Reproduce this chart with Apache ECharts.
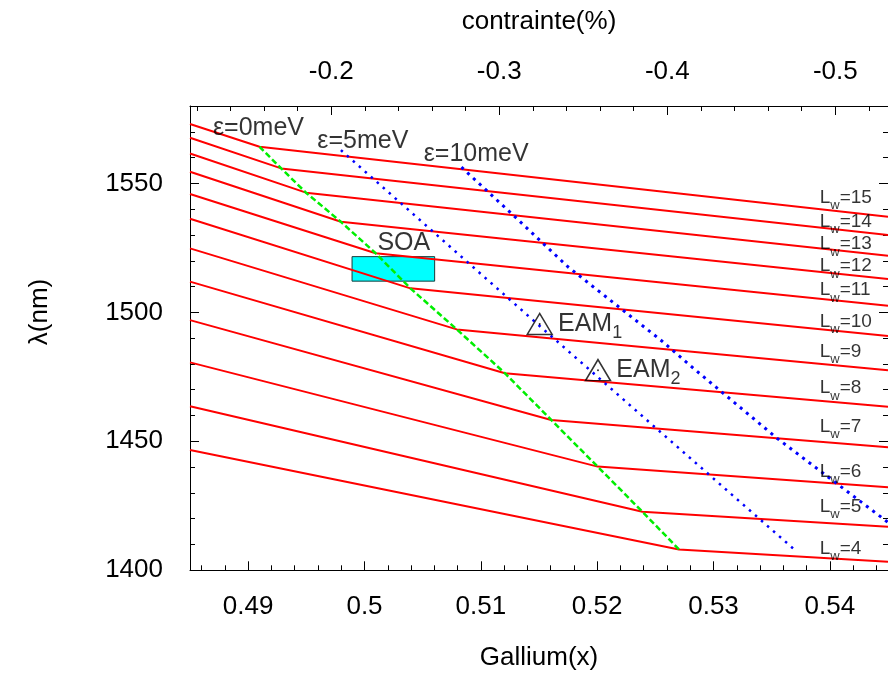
<!DOCTYPE html>
<html><head><meta charset="utf-8">
<script src="https://cdn.jsdelivr.net/npm/echarts@6/dist/echarts.min.js"></script>
<style>html,body{margin:0;padding:0;background:#fff}#c{width:888px;height:679px}</style>
</head><body><div id="c"></div>
<script>
// ---- data ----
const wellWidths = [4, 5, 6, 7, 8, 9, 10, 11, 12, 13, 14, 15];
const galliumStart = 0.485;
const galliumEnd = 0.545;
const lambdaAtStart = [1446.6, 1463.6, 1480.6, 1497.0, 1511.9, 1524.8, 1536.3, 1545.9, 1554.5, 1561.6, 1567.7, 1573.0];
const kneeGallium = [0.52703, 0.52389, 0.52004, 0.51605, 0.51207, 0.50793, 0.50395, 0.50096, 0.49797, 0.49497, 0.49284, 0.49098];
const kneeLambda = [1408.1, 1422.7, 1440.2, 1458.3, 1476.4, 1493.4, 1509.3, 1522.9, 1535.1, 1546.4, 1555.8, 1564.2];
const lambdaAtEnd = [1403.3, 1416.9, 1432.2, 1447.7, 1463.4, 1477.6, 1490.8, 1502.6, 1512.9, 1521.9, 1530.0, 1537.1];

const eps5Gallium = [0.49797, 0.51506, 0.53699];
const eps5Lambda = [1562.9, 1494.7, 1407.9];
const eps10Gallium = [0.50833, 0.51292, 0.51748, 0.52545, 0.52862, 0.53546, 0.545];
const eps10Lambda = [1556.3, 1537.1, 1517.7, 1489.3, 1477.0, 1451.2, 1418.6];

const deviceNames = ['EAM', 'EAM'];
const deviceIndex = ['1', '2'];
const deviceGallium = [0.51506, 0.52007];
const deviceLambda = [1495.5, 1477.6];

const soaGallium = [0.49893, 0.50603];
const soaLambda = [1512.1, 1521.6];
const soaLabelPos = [0.50338, 1526.9];

const epsLabels = ['ε=0meV', 'ε=5meV', 'ε=10meV'];
const epsLabelGallium = [0.48697, 0.49594, 0.50509];
const epsLabelLambda = [1571.4, 1566.4, 1561.4];

const lwLabelGallium = 0.53913;
const lwLabelLambda = [1408.5, 1424.7, 1438.2, 1455.7, 1470.7, 1484.7, 1496.4, 1508.6, 1517.9, 1526.5, 1535.1, 1544.6];

const galliumTicks = [0.49, 0.50, 0.51, 0.52, 0.53, 0.54];
const lambdaTicks = [1400, 1450, 1500, 1550];
const strainTicks = [-0.2, -0.3, -0.4, -0.5];
const lambdaMin = 1400, lambdaMax = 1580;

// strain (%) <-> gallium fraction calibration
const strainToGallium = s => 0.46825 - s / 6.923;
const galliumToStrain = g => -(g - 0.46825) * 6.923;

// minor tick positions
const galliumMinor = []; for (let i = 243; i <= 272; i++) galliumMinor.push(+(i * 0.002).toFixed(3));
const lambdaMinor = []; for (let v = 1410; v <= 1570; v += 10) lambdaMinor.push(v);
const strainMinor = []; for (let i = 6; i <= 26; i++) strainMinor.push(strainToGallium(-i * 0.02));

const FONT = "'Liberation Sans', Arial, Helvetica, sans-serif";
const BLACK = '#000';
const FS = 26;   // main text size
const FA = 25;   // annotation size

function xAx(pos, values, len, labels, extra) {
  return Object.assign({
    type: 'value', position: pos, min: galliumStart, max: galliumEnd,
    axisLine: { show: !!labels, onZero: false, lineStyle: { color: BLACK, width: 1 } },
    axisTick: { show: true, inside: true, length: len, customValues: values, lineStyle: { color: BLACK, width: 1 } },
    axisLabel: labels ? Object.assign({ show: true, customValues: values, color: BLACK, fontSize: FS, fontFamily: FONT }, labels) : { show: false },
    splitLine: { show: false }
  }, extra || {});
}
function yAx(pos, values, len, labels, extra) {
  return Object.assign({
    type: 'value', position: pos, min: lambdaMin, max: lambdaMax,
    axisLine: { show: !!labels || pos === 'right', onZero: false, lineStyle: { color: BLACK, width: 1 } },
    axisTick: { show: true, inside: true, length: len, customValues: values, lineStyle: { color: BLACK, width: 1 } },
    axisLabel: labels ? Object.assign({ show: true, customValues: values, color: BLACK, fontSize: FS, fontFamily: FONT }, labels) : { show: false },
    splitLine: { show: false }
  }, extra || {});
}

const series = [];
// SOA box
series.push({
  type: 'custom', xAxisIndex: 0, yAxisIndex: 0, z: 1,
  data: [[soaGallium[0], soaLambda[0], soaGallium[1], soaLambda[1]]],
  renderItem: (params, api) => {
    const p0 = api.coord([api.value(0), api.value(3)]);
    const p1 = api.coord([api.value(2), api.value(1)]);
    return { type: 'rect', shape: { x: p0[0], y: p0[1], width: p1[0] - p0[0], height: p1[1] - p0[1] },
      style: { fill: '#00ffff', stroke: '#1a3a3a', lineWidth: 1 } };
  }
});
// red curves
wellWidths.forEach((w, i) => {
  series.push({
    type: 'line', name: 'Lw=' + w, xAxisIndex: 0, yAxisIndex: 0, z: 3,
    symbol: 'none', silent: true,
    lineStyle: { color: '#ff0000', width: 2 },
    data: [[galliumStart, lambdaAtStart[i]], [kneeGallium[i], kneeLambda[i]], [galliumEnd, lambdaAtEnd[i]]]
  });
});
// epsilon = 0 meV (through the knees)
series.push({
  type: 'line', xAxisIndex: 0, yAxisIndex: 0, z: 4, symbol: 'none',
  lineStyle: { color: '#00ee00', width: 2.5, type: [6, 3] },
  data: kneeGallium.map((g, i) => [g, kneeLambda[i]])
});
series.push({
  type: 'line', xAxisIndex: 0, yAxisIndex: 0, z: 4, symbol: 'none',
  lineStyle: { color: '#0000ff', width: 2.5, type: [2.5, 5.5], cap: 'butt' },
  data: eps5Gallium.map((g, i) => [g, eps5Lambda[i]])
});
series.push({
  type: 'line', xAxisIndex: 0, yAxisIndex: 0, z: 4, symbol: 'none',
  lineStyle: { color: '#0000ff', width: 3, type: [3, 5], cap: 'butt' },
  data: eps10Gallium.map((g, i) => [g, eps10Lambda[i]])
});
// devices
series.push({
  type: 'scatter', xAxisIndex: 0, yAxisIndex: 0, z: 6,
  symbol: 'triangle', symbolSize: [25, 21],
  itemStyle: { color: 'rgba(0,0,0,0)', borderColor: BLACK, borderWidth: 1.5 },
  label: {
    show: true, position: 'right', distance: 5, color: BLACK, fontFamily: FONT,
    formatter: p => '{a|' + deviceNames[p.dataIndex] + '}{b|' + deviceIndex[p.dataIndex] + '}',
    rich: { a: { fontSize: FA, color: BLACK, fontFamily: FONT }, b: { fontSize: 18, color: BLACK, fontFamily: FONT, padding: [18, 0, 0, 0] } }
  },
  data: deviceGallium.map((g, i) => [g, deviceLambda[i]])
});
series.push({
  type: 'scatter', xAxisIndex: 0, yAxisIndex: 0, z: 6, symbol: 'circle', symbolSize: 2,
  itemStyle: { color: BLACK }, data: deviceGallium.map((g, i) => [g, deviceLambda[i]])
});
// texts
series.push({
  type: 'scatter', xAxisIndex: 0, yAxisIndex: 0, z: 7, symbolSize: 0, silent: true,
  label: { show: true, position: 'right', distance: 0, color: BLACK, fontSize: FA, fontFamily: FONT,
    formatter: p => epsLabels[p.dataIndex] },
  data: epsLabelGallium.map((g, i) => [g, epsLabelLambda[i]])
});
series.push({
  type: 'scatter', xAxisIndex: 0, yAxisIndex: 0, z: 7, symbolSize: 0, silent: true,
  label: { show: true, position: 'inside', color: BLACK, fontSize: FA, fontFamily: FONT, formatter: 'SOA' },
  data: [soaLabelPos]
});
series.push({
  type: 'scatter', xAxisIndex: 0, yAxisIndex: 0, z: 7, symbolSize: 0, silent: true,
  label: { show: true, position: 'right', distance: 0, color: BLACK, fontFamily: FONT,
    formatter: p => '{a|L}{b|w}{a|=' + wellWidths[p.dataIndex] + '}',
    rich: { a: { fontSize: 19, color: BLACK, fontFamily: FONT }, b: { fontSize: 13, color: BLACK, fontFamily: FONT, padding: [16, 0, 0, 0] } } },
  data: lwLabelLambda.map(v => [lwLabelGallium, v])
});

const option = {
  animation: false,
  backgroundColor: '#fff',
  grid: { left: 190, top: 106, width: 702.5, height: 464.3, show: false },
  graphic: [{
    type: 'text', x: 40, y: 312, rotation: Math.PI / 2,
    style: { text: 'λ(nm)', fill: BLACK, font: FS + 'px ' + FONT, textAlign: 'center', textVerticalAlign: 'middle' }
  }],
  xAxis: [
    xAx('bottom', galliumTicks, 9, { margin: 24, formatter: v => String(+(+v).toFixed(3)) },
      { name: 'Gallium(x)', nameLocation: 'middle', nameGap: 75, nameTextStyle: { color: BLACK, fontSize: FS, fontFamily: FONT } }),
    xAx('bottom', galliumMinor, 5, null),
    xAx('top', strainTicks.map(strainToGallium), 9, { margin: 21, formatter: v => galliumToStrain(+v).toFixed(1) },
      { name: 'contrainte(%)', nameLocation: 'middle', nameGap: 71, nameTextStyle: { color: BLACK, fontSize: FS, fontFamily: FONT } }),
    xAx('top', strainMinor, 5, null)
  ],
  yAxis: [
    yAx('left', lambdaTicks, 9, { margin: 27, formatter: v => String(v) }),
    yAx('left', lambdaMinor, 5, null),
    yAx('right', lambdaTicks, 9, null),
    yAx('right', lambdaMinor, 5, null)
  ],
  series
};
const chart = echarts.init(document.getElementById('c'), null, { renderer: 'canvas' });
chart.setOption(option);
</script></body></html>
